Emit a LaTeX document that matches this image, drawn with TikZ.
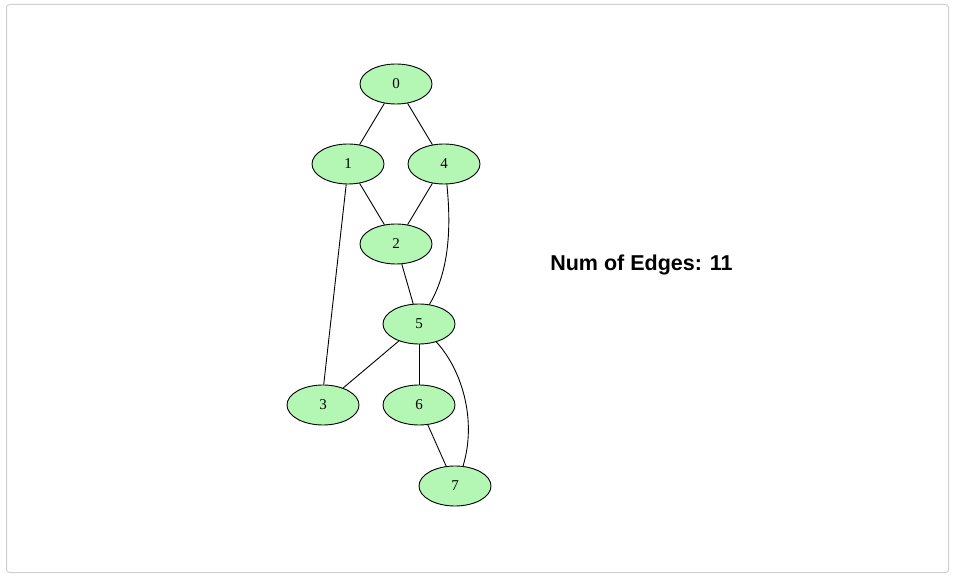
\documentclass[tikz,border=0pt]{standalone}
\usepackage{fontspec}
\setmainfont{Liberation Serif}
\newfontfamily\labelfont{Liberation Sans}
\usetikzlibrary{shapes.geometric}
\definecolor{nodegreen}{RGB}{180,247,180}
\definecolor{frame}{RGB}{208,208,208}
\begin{document}
\begin{tikzpicture}[x=1pt,y=-1pt,
  vtx/.style={ellipse,draw=black,fill=nodegreen,line width=0.9pt,minimum width=72pt,minimum height=40pt,inner sep=0pt,font=\fontsize{15}{17}\selectfont},
  edge/.style={draw=black,line width=0.9pt}]
\useasboundingbox (0,0) rectangle (954,577);
\draw[frame,line width=1pt,rounded corners=3pt] (6.5,4.5) rectangle (948.5,572.5);
\node[vtx] (n0) at (396,84) {0};
\node[vtx] (n1) at (348,164) {1};
\node[vtx] (n4) at (444,164) {4};
\node[vtx] (n2) at (396,244) {2};
\node[vtx] (n5) at (419,324) {5};
\node[vtx] (n3) at (323,405) {3};
\node[vtx] (n6) at (419,405) {6};
\node[vtx] (n7) at (455,486) {7};
\draw[edge] (n0) -- (n1);
\draw[edge] (n0) -- (n4);
\draw[edge] (n1) -- (n2);
\draw[edge] (n4) -- (n2);
\draw[edge] (n1.-95) -- (n3.88);
\draw[edge] (n2) -- (n5);
\draw[edge] (n4.-82) .. controls (451,225) and (450,270) .. (n5.62);
\draw[edge] (n5) -- (n3);
\draw[edge] (n5) -- (n6);
\draw[edge] (n5.-46) .. controls (462,370) and (477,420) .. (n7.68);
\draw[edge] (n6) -- (n7);
\node[font=\labelfont\bfseries\fontsize{21.5}{25}\selectfont] (lbl) at (641.5,265) {Num of Edges: 11};
\end{tikzpicture}
\end{document}
